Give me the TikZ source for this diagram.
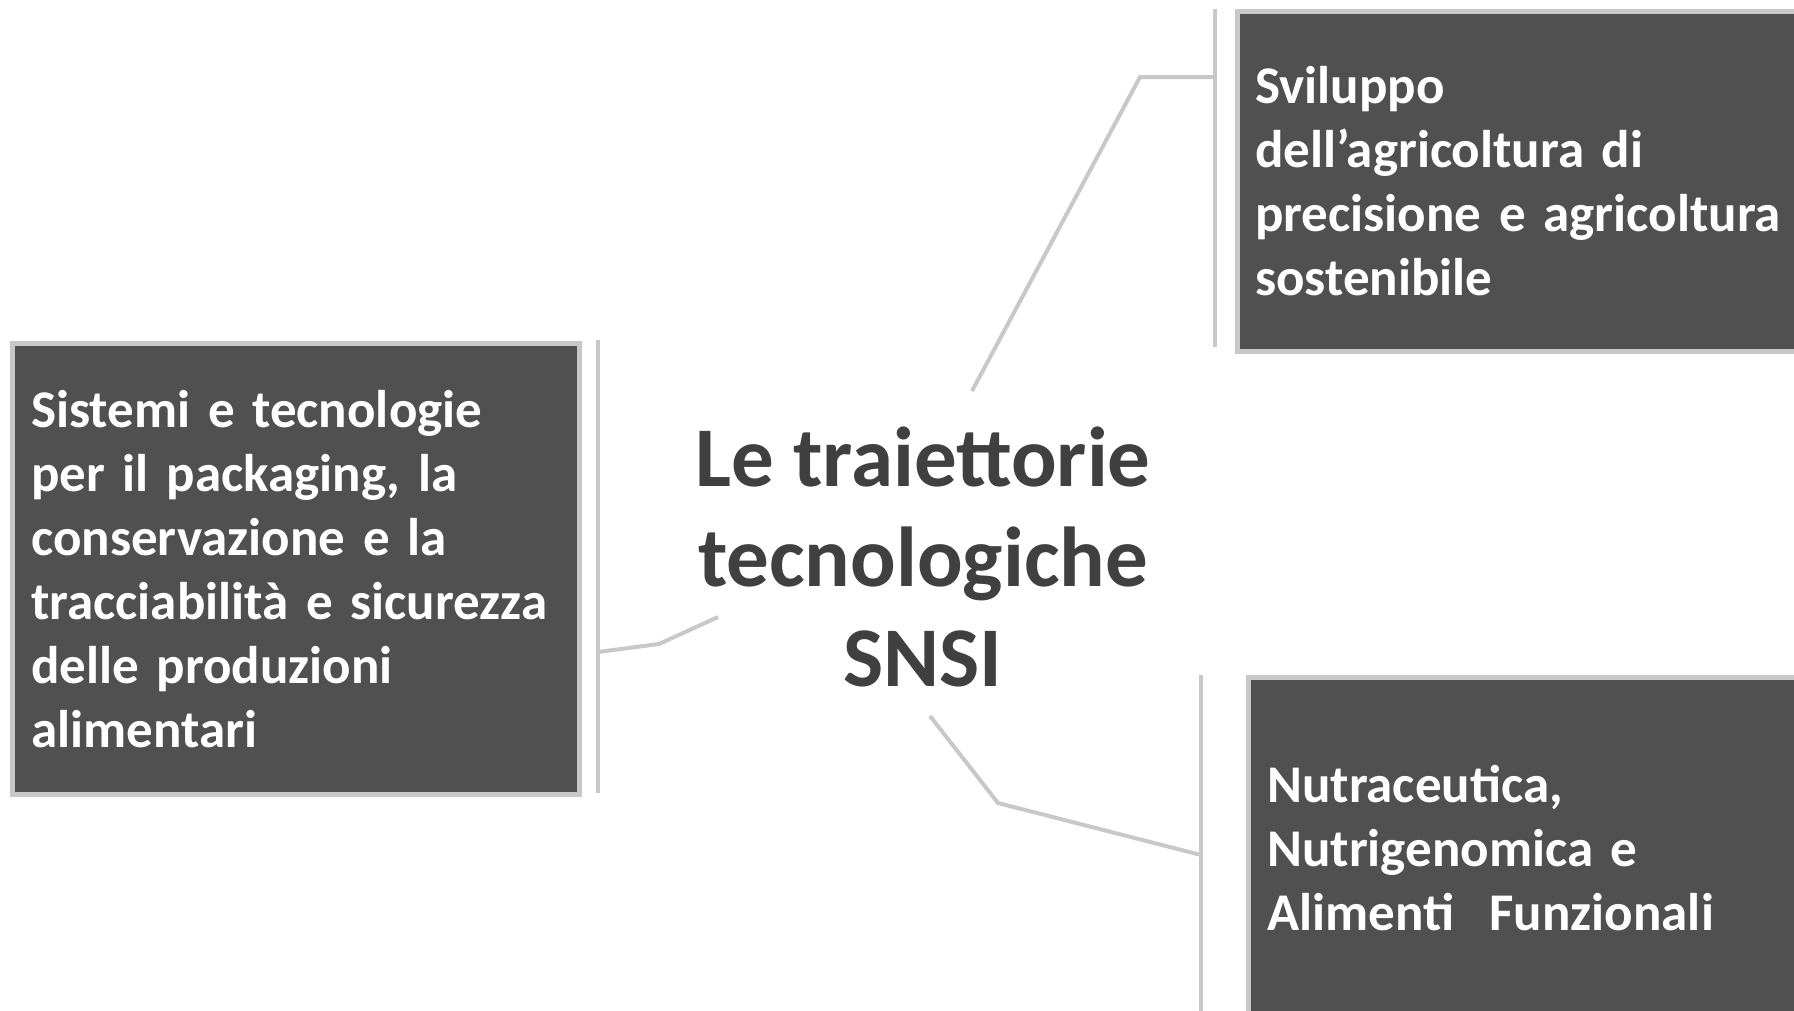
\documentclass[tikz,border=0pt]{standalone}
\usepackage{fontspec}
\setmainfont{Carlito}
\definecolor{boxfill}{RGB}{80,80,80}
\definecolor{edgegray}{RGB}{200,200,200}
\definecolor{titlegray}{RGB}{64,64,64}
\newcommand\boxfontsetup{\bfseries\fontsize{53}{64}\selectfont\spaceskip=0.2em\relax}
\begin{document}
\begin{tikzpicture}[x=1pt,y=-1pt,
  topicbox/.style={draw=edgegray, line width=4.5pt, fill=boxfill, text=white,
    font=\boxfontsetup, align=left, anchor=north west,
    inner ysep=0pt},
  link/.style={draw=edgegray, line width=4pt},
  title/.style={text=titlegray, font=\bfseries\fontsize{85}{100}\selectfont, align=center}
]
\useasboundingbox (0,0) rectangle (1794,1010);

% boxes
\node[topicbox, inner xsep=18pt, text width=536pt, minimum height=340pt] (tr) at (1235,9)
  {Sviluppo\\dell’agricoltura di\\precisione e agricoltura\\sostenibile};
\node[topicbox, inner xsep=19pt, text width=529pt, minimum height=451pt] (lf) at (10,341)
  {Sistemi e tecnologie\\per il packaging, la\\conservazione e la\\tracciabilità e sicurezza\\delle produzioni\\alimentari};
\node[topicbox, inner xsep=19pt, text width=540pt, minimum height=342pt] (br) at (1246,675)
  {Nutraceutica,\\Nutrigenomica e\\Alimenti\ \ Funzionali};

% central title
\node[title] (ct) at (923,557) {Le traiettorie\\tecnologiche\\SNSI};

% bracket coordinates
\coordinate (trA) at (1215,9);
\coordinate (trB) at (1215,347);
\coordinate (trM) at (1215,77);
\coordinate (trK) at (1140,77);
\coordinate (trS) at (972,391);

\coordinate (lfA) at (598,340);
\coordinate (lfB) at (598,793);
\coordinate (lfM) at (598,652);
\coordinate (lfK) at (659,644);
\coordinate (lfS) at (718,617);

\coordinate (brA) at (1201,675);
\coordinate (brB) at (1201,1015);
\coordinate (brM) at (1201,855);
\coordinate (brK) at (998,803);
\coordinate (brS) at (930,716);

% connectors
\draw[link] (trA) -- (trB);
\draw[link] (trS) -- (trK) -- (trM);
\draw[link] (lfA) -- (lfB);
\draw[link] (lfS) -- (lfK) -- (lfM);
\draw[link] (brA) -- (brB);
\draw[link] (brS) -- (brK) -- (brM);
\end{tikzpicture}
\end{document}
